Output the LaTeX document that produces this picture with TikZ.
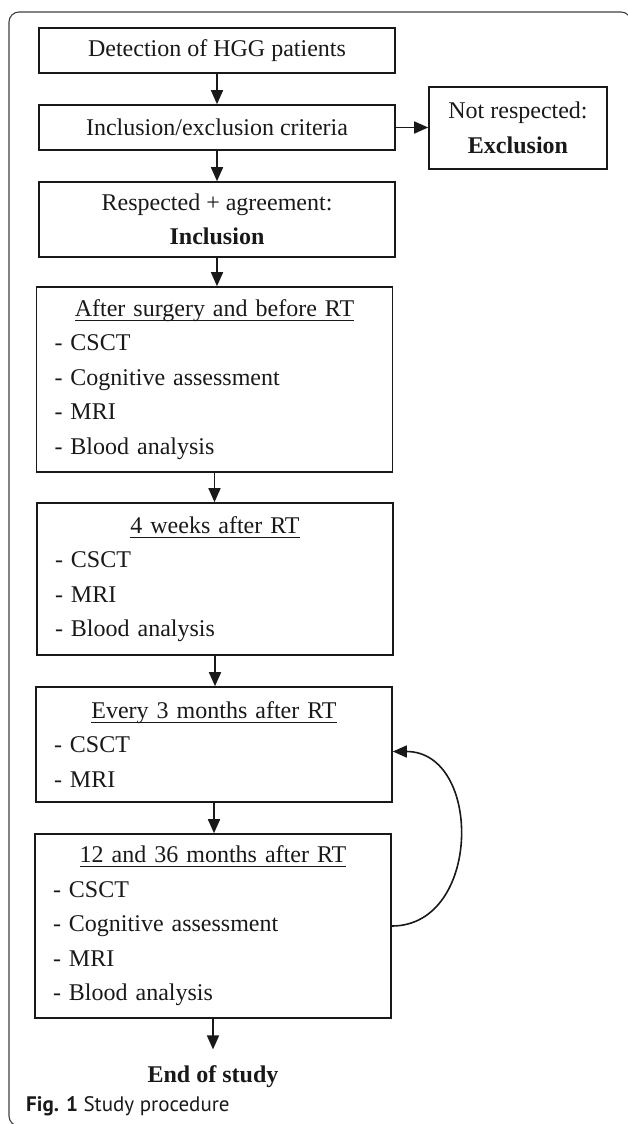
\documentclass[tikz,border=0pt]{standalone}
\usepackage{fontspec}
\setmainfont{Liberation Serif}
\newfontfamily\capfont{PT Sans}
\usetikzlibrary{arrows.meta}
\newcommand\hdl[1]{\sbox0{#1}\rlap{\rule[-4.6pt]{\wd0}{1.2pt}}\usebox0}
\newcommand\hdc[1]{\makebox[320pt][c]{\hdl{#1}}}
\begin{document}
\begin{tikzpicture}[x=1pt,y=-1pt,
  ink/.style={draw=black!90, line width=1.6pt},
  box/.style={ink, rectangle, inner sep=0pt, minimum width=356pt, align=center,
    font=\fontsize{24}{34.5}\selectfont, text=black!90},
  listbox/.style={box, inner xsep=18pt, text width=320pt, align=left},
  arr/.style={ink, -{Triangle[length=14pt,width=12pt]}},
]
\useasboundingbox (0,0) rectangle (627,1124);
% outer frame
\draw[draw=black!75, line width=1.1pt, rounded corners=10pt]
  (631,40) -- (631,12) -- (9,12) -- (9,1126) -- (631,1126);

\node[box, minimum height=45pt] (b1) at (217,50.5) {Detection of HGG patients};
\node[box, minimum height=45pt] (b2) at (217,127.5) {Inclusion/exclusion criteria};
\node[box, minimum width=178pt, minimum height=82pt] (ex) at (518,128)
  {Not respected:\\\textbf{Exclusion}};
\node[box, minimum height=75pt] (b3) at (217,219.5)
  {Respected + agreement:\\\textbf{Inclusion}};
\node[listbox, minimum height=185pt] (b4) at (214.5,379.5)
  {\hdc{After surgery and before RT}\\- CSCT\\- Cognitive assessment\\- MRI\\- Blood analysis};
\node[listbox, minimum height=152pt] (b5) at (215,579)
  {\hdc{4 weeks after RT}\\- CSCT\\- MRI\\- Blood analysis};
\node[listbox, minimum height=115pt] (b6) at (214,744.5)
  {\hdc{Every 3 months after RT}\\- CSCT\\- MRI};
\node[listbox, minimum height=184pt] (b7) at (213,926)
  {\hdc{12 and 36 months after RT}\\- CSCT\\- Cognitive assessment\\- MRI\\- Blood analysis};
\node[inner sep=0pt, anchor=base, font=\fontsize{24}{28}\selectfont\bfseries, text=black!90]
  (end) at (213,1082) {End of study};
\node[inner sep=0pt, anchor=base west, font=\capfont\fontsize{21}{24}\selectfont, text=black!90]
  (cap) at (26,1111) {\textbf{Fig. 1} Study procedure};

\draw[arr] (b1.south) -- (b1.south |- b2.north);
\draw[arr] (b2.south) -- (b2.south |- b3.north);
\draw[arr] (b2.east) -- (b2.east -| ex.west);
\draw[arr] (b3.south) -- (b3.south |- b4.north);
\draw[arr] (b4.south) -- (b4.south |- b5.north);
\draw[arr] (b5.south) -- (b5.south |- b6.north);
\draw[arr] (b6.south) -- (b6.south |- b7.north);
\draw[arr] (b7.south) -- ([yshift=15.5pt]end.north);
\draw[arr] (b7.east) .. controls +(90,0) and +(90,0) .. ([yshift=-7pt]b6.east);
\end{tikzpicture}
\end{document}
